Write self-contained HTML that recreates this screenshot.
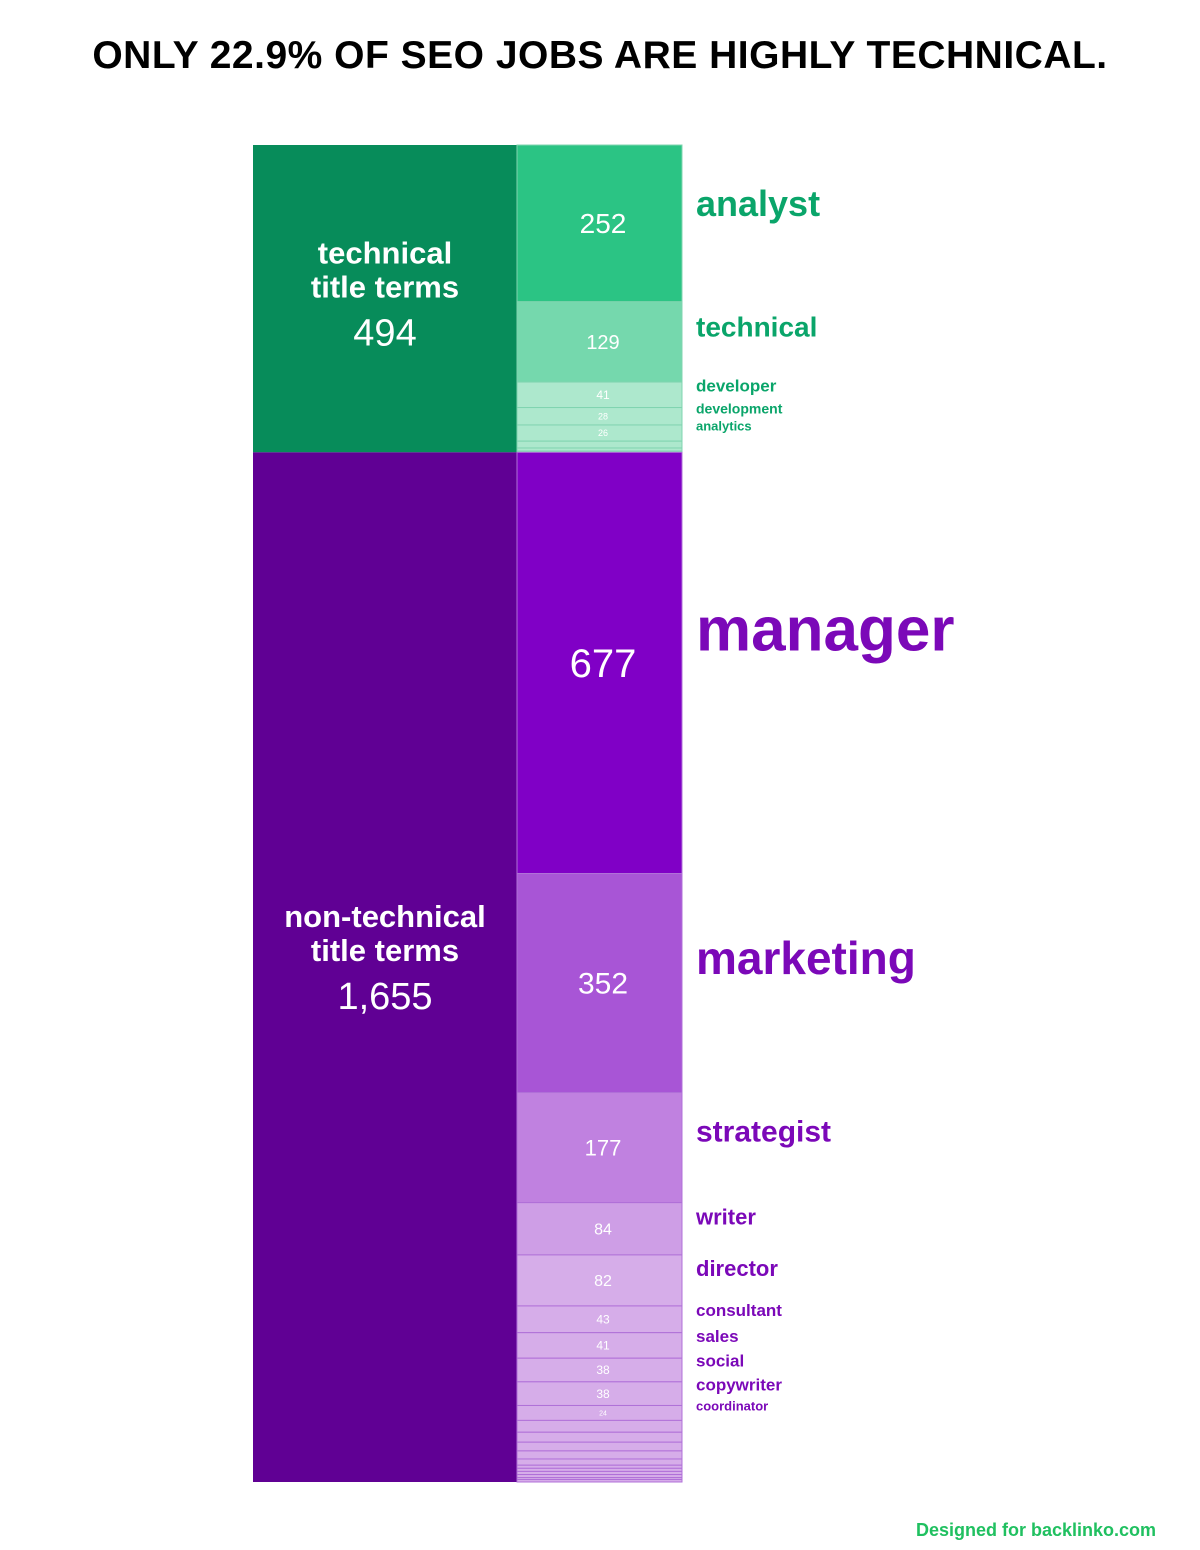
<!DOCTYPE html>
<html><head><meta charset="utf-8"><style>
body{margin:0;background:#fff;width:1200px;height:1550px;overflow:hidden;font-family:"Liberation Sans",sans-serif}
h1{position:absolute;top:34px;left:0;width:1200px;text-align:center;margin:0;font-size:39px;font-weight:bold;letter-spacing:0.5px;color:#000}
.foot{position:absolute;left:916px;top:1520px;font-size:18px;font-weight:bold;color:#20c060}
</style></head><body>
<h1>ONLY 22.9% OF SEO JOBS ARE HIGHLY TECHNICAL.</h1>
<svg id="c" width="1200" height="1550" style="position:absolute;left:0;top:0"></svg>
<div class="foot">Designed for backlinko.com</div>
<script>
const groupNames=["technical title terms","non-technical title terms"];
const groupTotals=[494,1655];
const groupTotalLabels=["494","1,655"];
const techTerms=["analyst","technical","developer","development","analytics","","",""];
const techValues=[252,129,41,28,26,11,5,2];
const nonTechTerms=["manager","marketing","strategist","writer","director","consultant","sales","social","copywriter","coordinator","","","","","","","","","","",""];
const nonTechValues=[677,352,177,84,82,43,41,38,38,24,19,16,14,13,10,5,5,5,5,3,4];
const techColors=["#2bc484","#75d8ad","#ade8cd"];
const nonTechColors=["#8000c6","#a855d6","#c081e0","#ce9ee6","#d6ade9"];
const svg=document.getElementById('c');const NS="http://www.w3.org/2000/svg";
const top0=145,bottom=1482,xL=253,xM=517,xR=682;
const total=groupTotals[0]+groupTotals[1];
const y=v=>top0+v/total*(bottom-top0);
function mk(t,a,p){const e=document.createElementNS(NS,t);for(const k in a)e.setAttribute(k,a[k]);(p||svg).appendChild(e);return e;}
const gc=["#078c5a","#600094"],lc=["#0aa56a","#7b08b8"];
let acc=0;
groupTotals.forEach((g,i)=>{
  const r=mk('rect',{x:xL,y:y(acc),width:xM-xL,height:y(acc+g)-y(acc),fill:gc[i]});
  
  
  const cy=(y(acc)+y(acc+g))/2-(i?40:35);
  const words=groupNames[i].split(' title ');
  const t1=mk('text',{x:385,y:cy,'text-anchor':'middle','font-size':31,'font-weight':'bold',fill:'#fff'});t1.textContent=words[0];
  
  const t2=mk('text',{x:385,y:cy+34,'text-anchor':'middle','font-size':31,'font-weight':'bold',fill:'#fff'});t2.textContent='title '+words[1];
  
  const t3=mk('text',{x:385,y:cy+82,'text-anchor':'middle','font-size':38,fill:'#fff'});t3.textContent=groupTotalLabels[i];
  
  acc+=g;
});
function fs(v){return v>=600?62:v>=300?46:v>=200?36:v>=150?30:v>=100?28:v>=60?22:v>=36?17:v>=27?14:13;}
function ns(v){return v>=600?40:v>=300?30:v>=200?28:v>=150?22:v>=100?20:v>=60?16:v>=36?12:v>=25?9:7;}
function drawTerms(terms,vals,cols,start,gi){
  let a=start;
  vals.forEach((v,i)=>{
    const y0=y(a),y1=y(a+v);
    const r=mk('rect',{x:xM,y:y0,width:xR-xM,height:y1-y0,fill:cols[Math.min(i,cols.length-1)],stroke:gi?'#b070d8':'#80d4b0','stroke-width':1});
    
    
    const cy=(y0+y1)/2;
    if(v>=20){
      const n=mk('text',{x:603,y:cy+ns(v)*0.35,'text-anchor':'middle','font-size':ns(v),fill:'#fff'});n.textContent=v;
      
    }
    if(terms[i]){
      const f=fs(v);
      const l=mk('text',{x:696,y:cy-f*0.2,'font-size':f,'font-weight':'bold',fill:lc[gi]});l.textContent=terms[i];
      
    }
    a+=v;
  });
}
drawTerms(techTerms,techValues,techColors,0,0);
drawTerms(nonTechTerms,nonTechValues,nonTechColors,groupTotals[0],1);
</script>
</body></html>
